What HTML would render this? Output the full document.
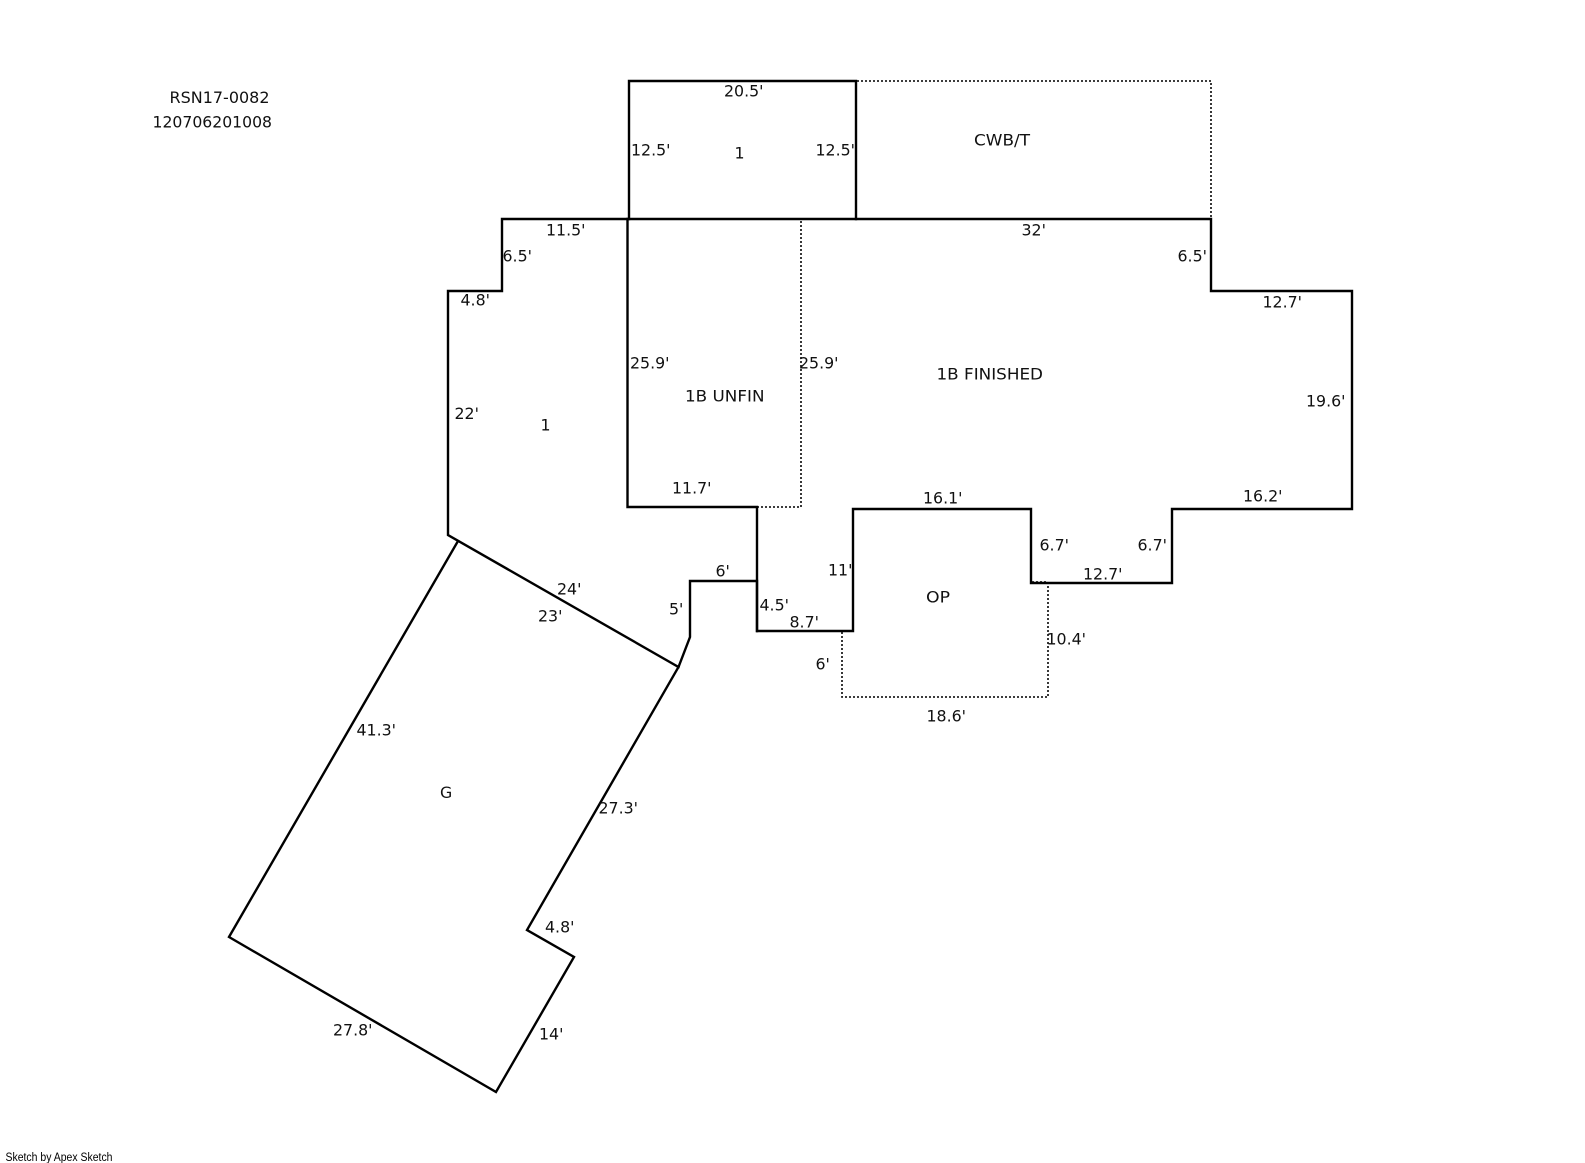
<!DOCTYPE html>
<html>
<head>
<meta charset="utf-8">
<title>Sketch</title>
<style>
html,body{margin:0;padding:0;background:#fff}
svg{display:block}
text{font-family:"DejaVu Sans","Liberation Sans",sans-serif;font-size:15.8px;fill:#111}
.s{fill:none;stroke:#000;stroke-width:2.4;stroke-linejoin:miter;stroke-linecap:square}
.d{fill:none;stroke:#222;stroke-width:1.8;stroke-dasharray:2 2}
</style>
</head>
<body>
<svg width="1585" height="1163" viewBox="0 0 1585 1163" xmlns="http://www.w3.org/2000/svg">
<rect width="1585" height="1163" fill="#fff"/>
<!-- dotted -->
<path class="d" d="M857 81H1211V218"/>
<path class="d" d="M801 221V507H758"/>
<path class="d" d="M842 632V697H1048V582H1032"/>
<!-- top rect -->
<path class="s" d="M629 219V81H856V219"/>
<!-- main outline -->
<path class="s" d="M448 535V291H502V219H1211V291H1352V509H1172V583H1031V509H853V631H757V581H690V637L678.5 667Z"/>
<path class="s" d="M627.5 219V507H757V631"/>
<!-- garage -->
<path class="s" d="M458 541L229 937L496 1092L574 957L527 930L678.5 667"/>
<!-- labels -->
<g transform="translate(0,-0.4)">
<text x="169.5" y="103.3" textLength="100" lengthAdjust="spacingAndGlyphs">RSN17-0082</text>
<text x="152.5" y="127.7" textLength="119.5" lengthAdjust="spacingAndGlyphs">120706201008</text>
<text x="724" y="96.7">20.5'</text>
<text x="631" y="156">12.5'</text>
<text x="734.5" y="159">1</text>
<text x="815.5" y="156">12.5'</text>
<text x="974" y="146" textLength="56" lengthAdjust="spacingAndGlyphs">CWB/T</text>
<text x="546" y="235.7">11.5'</text>
<text x="502.5" y="262">6.5'</text>
<text x="460.5" y="305.7">4.8'</text>
<text x="630" y="369">25.9'</text>
<text x="799" y="369">25.9'</text>
<text x="685" y="402" textLength="79.5" lengthAdjust="spacingAndGlyphs">1B UNFIN</text>
<text x="454.5" y="419.3">22'</text>
<text x="540.5" y="431">1</text>
<text x="672" y="494">11.7'</text>
<text x="1021.5" y="235.7">32'</text>
<text x="1177.5" y="262">6.5'</text>
<text x="1262.5" y="307.7">12.7'</text>
<text x="1306" y="407">19.6'</text>
<text x="1243" y="501.7">16.2'</text>
<text x="1039.5" y="551">6.7'</text>
<text x="1137.5" y="551">6.7'</text>
<text x="1083" y="580">12.7'</text>
<text x="936.5" y="380" textLength="106.5" lengthAdjust="spacingAndGlyphs">1B FINISHED</text>
<text x="923" y="504">16.1'</text>
<text x="715.5" y="576.7">6'</text>
<text x="669" y="615">5'</text>
<text x="759.5" y="610.7">4.5'</text>
<text x="789.5" y="628">8.7'</text>
<text x="828" y="576">11'</text>
<text x="926" y="603" textLength="24" lengthAdjust="spacingAndGlyphs">OP</text>
<text x="815.5" y="670">6'</text>
<text x="1046.5" y="645">10.4'</text>
<text x="926.5" y="722">18.6'</text>
<text x="557" y="595">24'</text>
<text x="538" y="621.7">23'</text>
<text x="356.5" y="736">41.3'</text>
<text x="598.5" y="814">27.3'</text>
<text x="440" y="798.5">G</text>
<text x="545" y="932.7">4.8'</text>
<text x="539" y="1040">14'</text>
<text x="333" y="1035.7">27.8'</text>
</g>
<text x="5.5" y="1161" textLength="107" lengthAdjust="spacingAndGlyphs" style="font-family:'Liberation Sans',sans-serif;font-size:11.5px;fill:#000">Sketch by Apex Sketch</text>
</svg>
</body>
</html>
